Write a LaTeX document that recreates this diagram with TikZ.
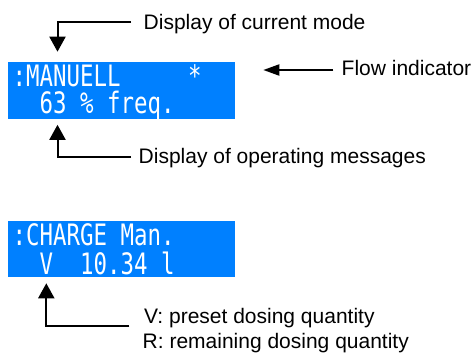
\documentclass[tikz,border=0pt]{standalone}
\usepackage{graphicx}
\usepackage{fontspec}
\setmainfont{Liberation Sans}
\newfontfamily\lcdfont{DejaVu Sans Mono}
\usetikzlibrary{arrows.meta}
\definecolor{lcdblue}{RGB}{0,128,255}
\begin{document}
\begin{tikzpicture}[x=1pt,y=-1pt,
  lcd/.style={fill=lcdblue, draw=none, minimum width=227pt, minimum height=56.5pt, anchor=north west, inner sep=0pt, outer sep=0pt},
  lcdtext/.style={text=white, anchor=base west, inner sep=0pt, font=\lcdfont\fontsize{29.5}{30}\selectfont},
  lbl/.style={anchor=base west, inner sep=0pt, font=\fontsize{21}{25}\selectfont},
  conn/.style={line width=2pt, -{Triangle[length=15pt,width=16pt]}},
  flowconn/.style={line width=2pt, -{Triangle[length=16pt,width=11pt]}},
]
\useasboundingbox (0,0) rectangle (474,353);
% LCD panels
\node[lcd] (lcd1) at (8,62) {};
\node[lcd] (lcd2) at (8,220.5) {};
% LCD texts
\node[lcdtext] (l1a) at (12.5,87) {\scalebox{0.76}[1]{:MANUELL\ \ \ \ \ *}};
\node[lcdtext] (l1b) at (39.5,113.5) {\scalebox{0.76}[1]{63 \% freq.}};
\node[lcdtext] (l2a) at (12.5,245.5) {\scalebox{0.76}[1]{:CHARGE Man.}};
\node[lcdtext] (l2b) at (39.5,274) {\scalebox{0.76}[1]{V\ \ 10.34 l}};
% labels
\node[lbl] (t1) at (143.5,30) {Display of current mode};
\node[lbl] (t2) at (341.5,75) {Flow indicator};
\node[lbl] (t3) at (138.5,163.3) {Display of operating messages};
\node[lbl] (t4) at (144,323) {V: preset dosing quantity};
\node[lbl] (t5) at (142.5,348) {R: remaining dosing quantity};
% connector anchors
\coordinate (c1) at (131,22.3);
\coordinate (k1) at (57.5,0);
\coordinate (c2) at (333.3,70);
\coordinate (c2t) at (263.3,70);
\coordinate (c3) at (131,156.7);
\coordinate (c4) at (129.3,326);
\coordinate (k4) at (46.3,0);
% connectors
\draw[conn] (c1) -| ([yshift=10.3pt]lcd1.north -| k1);
\draw[flowconn] (c2) -- (c2t);
\draw[conn] (c3) -| ([yshift=-6.3pt]lcd1.south -| k1);
\draw[conn] (c4) -| ([yshift=-6.3pt]lcd2.south -| k4);
\end{tikzpicture}
\end{document}
